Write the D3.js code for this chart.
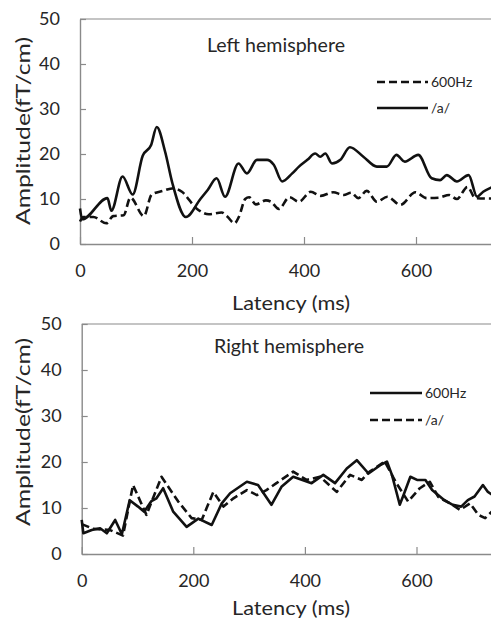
<!DOCTYPE html>
<html><head><meta charset="utf-8">
<script src="https://cdn.jsdelivr.net/npm/d3@7"></script>
<style>
html,body{margin:0;padding:0;background:#fff;}
svg{display:block;}
text{font-family:Lato,"Open Sans",sans-serif;fill:#262626;}
</style></head>
<body><svg id="chart" width="491" height="618"></svg>
<script>
// ---------- data ----------
const latencyTicks = [0, 200, 400, 600];
const amplitudeTicks = [0, 10, 20, 30, 40, 50];
const panelTitles = ["Left hemisphere", "Right hemisphere"];
const xTitle = "Latency (ms)";
const yTitle = "Amplitude(fT/cm)";

// Left hemisphere: 600Hz (dashed)
const leftLat600 = [0,6,24,47,59,78,90,114,128,148,167,182,208,230,253,263,276,284,295,302,314,332,341,355,374,391,412,430,452,471,484,497,512,530,549,572,599,619,641,659,673,692,706,735];
const leftAmp600 = [5,6,6,4.6,6.2,6.4,10.3,6.2,11,11.8,12.4,11.6,7.9,6.6,7.0,6.1,4.6,6.1,10,10.4,8.8,9.7,9.4,7.8,10.4,9.4,11.6,10.7,11.5,10.9,11.4,10.2,11.8,9.4,10.5,8.7,11.5,10.2,10.3,10.9,10,12.7,10.2,10.1];
// Left hemisphere: /a/ (solid)
const leftLatA = [0,4,49,56,76,94,112,127,137,152,165,189,215,228,244,259,283,298,316,334,346,361,379,391,406,420,429,438,450,465,482,506,530,548,565,580,604,628,643,655,673,694,709,720,735];
const leftAmpA = [7.9,5.5,10.2,7.4,15,11,19.6,22,26,20.5,13.5,6,10,12,14.6,10.5,17.9,15.7,18.7,18.7,17.6,13.9,15.7,17.2,18.7,20.1,19.4,20.1,17.9,18.7,21.5,19.4,17.2,17.2,19.8,18.3,19.8,14.6,14.2,15.3,13.9,15.3,10.5,11.6,12.6];

// Right hemisphere: 600Hz (solid)
const rightLat600 = [0,3,18,33,45,60,72,86,101,112,125,134,146,164,188,209,233,251,266,296,316,340,358,379,412,433,454,475,493,514,535,547,556,570,578,589,601,616,628,650,665,680,692,704,719,728,740];
const rightAmp600 = [7.4,4.5,5.2,5.6,4.5,7.4,4.3,11.7,10.3,9.2,11.5,12.1,14.3,9.2,5.9,7.7,6.3,11,13.2,15.7,15,10.7,14.6,16.8,15.4,17.2,15.4,18.6,20.4,17.5,19.3,20.1,17.2,10.7,13.2,16.8,16.1,16.1,13.9,11.7,10.7,10.3,11.7,12.5,15,13.5,12.5];
// Right hemisphere: /a/ (dashed)
const rightLatA = [0,20,51,74,92,116,143,173,197,215,236,254,272,296,314,331,349,379,403,427,457,481,502,516,543,564,585,606,624,639,660,678,696,711,723,735];
const rightAmpA = [6.5,5.5,5.2,4.0,15,8.5,16.8,11.4,7.8,7.4,13.5,10.3,12.1,13.9,12.8,13.9,15.4,17.9,16.1,16.8,13.5,17.2,16.1,17.9,20.1,15.4,11.4,14.3,15.7,12.4,11,9.6,11,8.5,7.8,9.2];

const legendLabels = ["600Hz", "/a/"];

// ---------- drawing ----------
const svg = d3.select("#chart");
const AX = "#8a8a8a";

const panels = [
  { left: 80, top: 19, bottom: 244, pxPerMs: 0.56, title: panelTitles[0], tx: 276, ty: 52, tlen: 138,
    series: [
      { lat: leftLat600, amp: leftAmp600, dashed: true, label: legendLabels[0] },
      { lat: leftLatA, amp: leftAmpA, dashed: false, label: legendLabels[1] } ],
    legend: { x0: 377, x1: 428, y: [82, 108] }, curve: d3.curveMonotoneX,
    xt: 310, yt: 131 },
  { left: 81.7, top: 324, bottom: 554, pxPerMs: 0.558, title: panelTitles[1], tx: 289, ty: 352.5, tlen: 150,
    series: [
      { lat: rightLat600, amp: rightAmp600, dashed: false, label: legendLabels[0] },
      { lat: rightLatA, amp: rightAmpA, dashed: true, label: legendLabels[1] } ],
    legend: { x0: 370, x1: 422, y: [393, 420] }, curve: d3.curveLinear,
    xt: 615, yt: 432 }
];

panels.forEach(p => {
  const x = d3.scaleLinear().domain([0, 800]).range([p.left, p.left + 800 * p.pxPerMs]);
  const y = d3.scaleLinear().domain([0, 50]).range([p.bottom, p.top]);
  const g = svg.append("g");

  // top frame line
  g.append("line").attr("x1", p.left).attr("x2", 491).attr("y1", p.top).attr("y2", p.top)
    .attr("stroke", AX).attr("stroke-width", 1.2);

  // y axis
  const ya = g.append("g").attr("transform", `translate(${p.left},0)`)
    .call(d3.axisLeft(y).tickValues(amplitudeTicks).tickSize(-6).tickSizeOuter(0).tickPadding(20));
  // x axis
  const xa = g.append("g").attr("transform", `translate(0,${p.bottom})`)
    .call(d3.axisBottom(x).tickValues(latencyTicks).tickSize(-7).tickSizeOuter(0).tickPadding(20));
  [ya, xa].forEach(a => {
    a.select(".domain").attr("stroke", AX).attr("stroke-width", 1.4);
    a.selectAll(".tick line").attr("stroke", AX).attr("stroke-width", 1.2);
    a.selectAll(".tick text").style("font-family", "Lato,sans-serif").style("font-size", "18px").attr("fill", "#262626");
  });

  // lines
  p.series.forEach(s => {
    const pts = s.lat.map((l, i) => [l, s.amp[i]]);
    g.append("path").datum(pts)
      .attr("fill", "none").attr("stroke", "#111").attr("stroke-width", 2.6)
      .attr("stroke-linejoin", "round")
      .attr("stroke-dasharray", s.dashed ? "8,4" : null)
      .attr("d", d3.line().x(d => x(d[0])).y(d => y(d[1])).curve(p.curve));
  });

  // legend
  p.series.forEach((s, i) => {
    const ly = p.legend.y[i];
    g.append("line").attr("x1", p.legend.x0).attr("x2", p.legend.x1).attr("y1", ly).attr("y2", ly)
      .attr("stroke", "#111").attr("stroke-width", 2.6).attr("stroke-dasharray", s.dashed ? "8,4" : null);
    g.append("text").attr("x", p.legend.x1 + 3).attr("y", ly).attr("dy", "0.36em")
      .style("font-size", "14px").text(s.label);
  });

  // panel title
  g.append("text").attr("x", p.tx).attr("y", p.ty).attr("text-anchor", "middle")
    .style("font-size", "19px").attr("textLength", p.tlen)
    .attr("lengthAdjust", "spacingAndGlyphs").text(p.title);

  // axis titles
  g.append("text").attr("x", 291).attr("y", p.xt).attr("text-anchor", "middle")
    .style("font-size", "19px").attr("textLength", 118).attr("lengthAdjust", "spacingAndGlyphs").text(xTitle);
  g.append("text").attr("transform", `translate(30,${p.yt}) rotate(-90)`).attr("text-anchor", "middle")
    .style("font-size", "19px").attr("textLength", 188).attr("lengthAdjust", "spacingAndGlyphs").text(yTitle);
});
</script></body></html>
